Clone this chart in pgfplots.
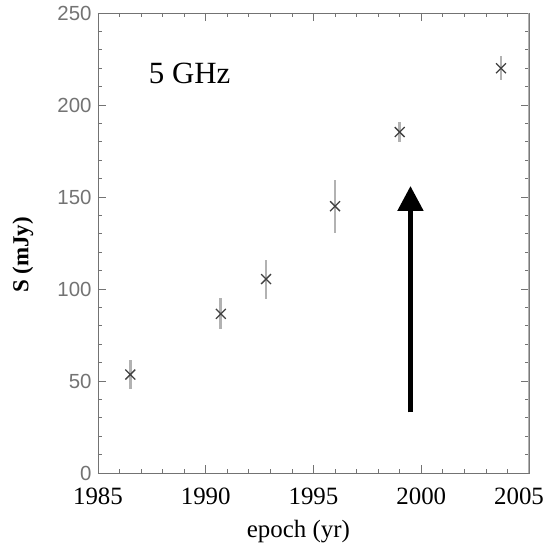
\documentclass[border=0pt]{standalone}
\usepackage{pgfplots}
\pgfplotsset{compat=1.18}
\usepackage{fontspec}
\setmainfont{Liberation Serif}
\newfontfamily\tickfont{Liberation Sans}
\usetikzlibrary{arrows.meta}
\begin{document}
\begin{tikzpicture}
\useasboundingbox (-98bp,-71bp) rectangle (449bp,473bp);
\begin{axis}[
  at={(0,0)}, anchor=south west,
  scale only axis, width=431bp, height=460bp,
  xmin=1985, xmax=2005, ymin=0, ymax=250,
  xtick={1985,1990,1995,2000,2005}, ytick={0,50,100,150,200,250},
  minor x tick num=4, minor y tick num=4,
  tick align=inside, major tick length=8bp, minor tick length=4bp,
  axis line style={black!55, line width=0.9bp},
  every tick/.style={black!55, line width=0.8bp},
  /pgf/number format/assume math mode=true,
  /pgf/number format/1000 sep={},
  xticklabel={\ifnum\ticknum=4 \hspace*{-20bp}\fi\pgfmathprintnumber{\tick}},
  x tick label style={font=\fontsize{25}{25}\selectfont, yshift=-11bp},
  y tick label style={font=\fontsize{20.5}{20.5}\selectfont\tickfont\color{black!55}, xshift=-3bp},
  xlabel={epoch (yr)},
  ylabel={\textbf{S (mJy)}},
  every axis x label/.style={at={(axis description cs:0.465,0)}, anchor=base, yshift=-64bp,
    font=\fontsize{25}{25}\selectfont},
  every axis y label/.style={at={(axis description cs:-0.174,0.474)}, anchor=center, rotate=90,
    font=\fontsize{23}{23}\selectfont},
]
\draw[black!30, line width=2.5bp] (rel axis cs:1,0) -- (rel axis cs:1,1);
\addplot[only marks, mark=x, mark size=7bp, black!75, line width=1.3bp,
  error bars/.cd, y dir=both, y explicit,
  error bar style={black!30, line width=2.8bp}, error mark=none]
  coordinates {
  (1986.5,53.5) +- (0,8)
  (1990.7,86.5) +- (0,8.5)
  (1992.8,105.4) +- (0,10.6)
  (1996.0,145) +- (0,14.5)
  (1999.0,185.3) +- (0,5.5)
  (2003.7,220) +- (0,6.5)
};
\addplot[black, line width=5bp, -{Triangle[width=25bp,length=25bp]}]
  coordinates {(1999.5,33) (1999.5,156)};
\node[anchor=west, font=\fontsize{31}{31}\selectfont] at (axis cs:1987.2,217) {5 GHz};
\end{axis}
\end{tikzpicture}
\end{document}
